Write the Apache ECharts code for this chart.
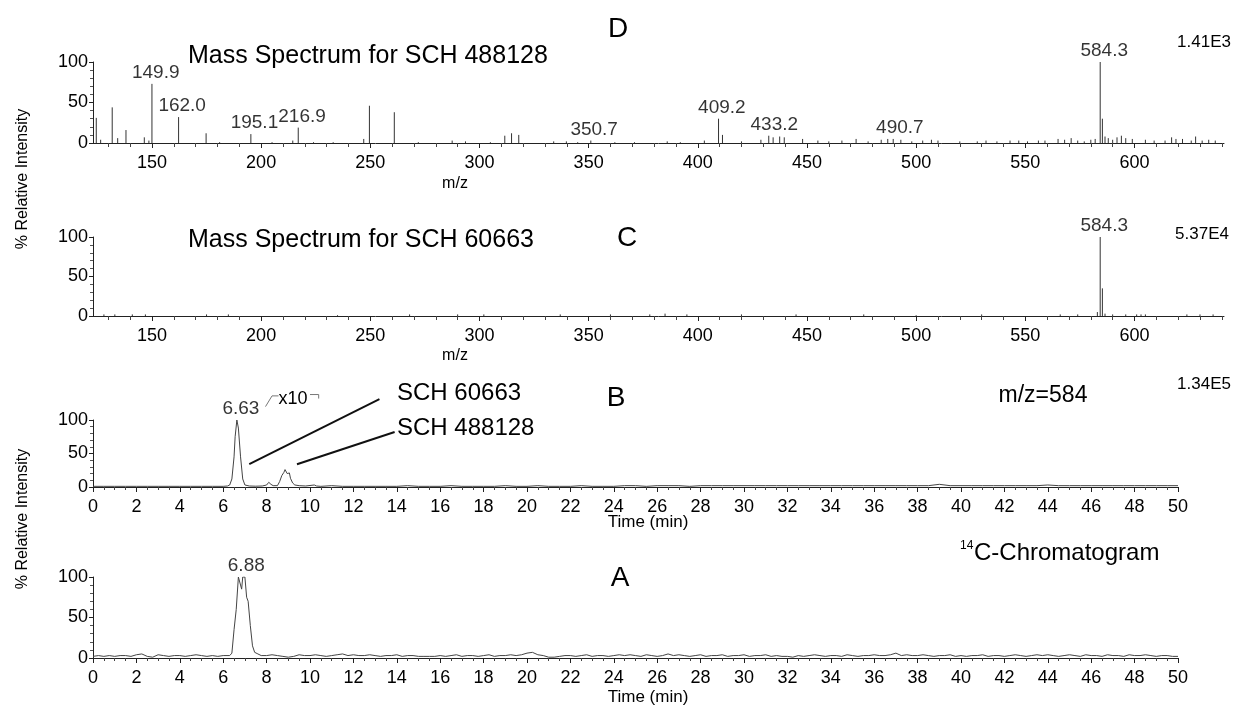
<!DOCTYPE html>
<html><head><meta charset="utf-8">
<script src="https://cdn.jsdelivr.net/npm/echarts@6/dist/echarts.min.js"></script>
<style>html,body{margin:0;padding:0;background:#fff}#c{width:1236px;height:705px}</style>
</head><body><div id="c"></div>
<script>
// ---------- DATA ----------
const mzMajorTicks = [150,200,250,300,350,400,450,500,550,600];
const mzMinorTicks = [130,140,160,170,180,190,210,220,230,240,260,270,280,290,310,320,330,340,360,370,380,390,410,420,430,440,460,470,480,490,510,520,530,540,560,570,580,590,610,620,630,640];
const yTickLabels = [0,50,100];

// Panel D: mass spectrum SCH 488128  [m/z, % intensity]
const specD = [[124.5,31],[126.5,4],[131.8,44],[134.3,6],[138.1,16],[146.5,7],[148.6,3],[150.0,73],[162.2,32],[174.8,12],[181,1],[195.3,11],[205,1],[214.5,3],[217.0,19],[224,1],[233,1],[247,5],[249.6,46],[261.0,38],[272,1],[287.5,3],[293.6,2],[305,1],[311.6,9],[314.7,12],[318.0,10],[334,2],[339.8,2],[345,1],[351.0,3],[362,1],[371,1],[386,2],[392,1],[403,3],[409.5,30],[411.3,10],[420,2],[428.9,4],[432.5,9],[434.5,7],[437.5,8],[439.6,7],[448,5],[455,3],[460,2],[466,3],[472.5,5],[478,2],[484,4],[487,5],[489.5,5],[493,4],[498,2],[503,3],[507,4],[510,3],[520,2],[528,2],[532,3],[537,2],[543,3],[547,3],[551,2],[556,3],[559,3],[565,5],[568,4],[571,6],[574,3],[577,2],[580,4],[582,5],[584.3,100],[585.3,30],[586.5,8],[588,6],[590,4],[592,7],[594,9],[596,6],[599,5],[605,4],[609,3],[614,3],[617,7],[619,5],[622,5],[626,3],[628,8],[631,3],[634,4],[637,3]];
const peakLabelsD = [['149.9',149.9,73],['162.0',162.0,32],['195.1',195.1,11],['216.9',216.9,19],['350.7',350.7,3],['409.2',409.2,30],['433.2',433.2,9],['490.7',490.7,5],['584.3',584.3,100]];

// Panel C: mass spectrum SCH 60663
const specC = [[128,2],[133,2],[141,2],[147,2],[175,2],[185,2],[235,1],[268,2],[290,2],[302,2],[337,2],[360,2],[378,2],[385,3],[395,2],[420,2],[445,2],[476,2],[500,1],[530,2],[566,2],[574,2],[583,5],[584.3,100],[585.3,35],[586.5,3],[590,2],[596,2],[601,2],[603,2],[605,2],[624,2],[630,2],[636,2]];
const peakLabelsC = [['584.3',584.3,100]];

// Panel B: m/z=584 ion chromatogram, baseline sampled every 0.5 min (0..50)
const bBaseline = [1,1,1,1,1,1,1,1,1,1, 1,1,1,1,1,1,1,1,1,1, 1,1,2,1,1,1,1,1,1,2, 1,1,1,2,1,1,1,1,2,1, 1,2,1,1,1,2,1,1,1,2, 2,1,2,2,2,1,2,2,2,2, 2,2,2,2,2,2,2,2,2,2, 2,2,2,2,2,2,2,2,4,2, 2,2,2,2,2,2,2,2,3,2, 2,2,2,2,2,2,2,2,2,2, 2];
const bPeak = [[6.2,1.5],[6.3,3],[6.4,12],[6.5,45],[6.55,75],[6.63,100],[6.7,88],[6.8,45],[6.9,12],[7.0,3],[7.2,1.5],[7.5,1.2],[7.8,1.5],[8.0,3],[8.1,7],[8.2,4],[8.3,2],[8.5,2],[8.6,8],[8.7,17],[8.8,22],[8.85,26],[8.95,20],[9.05,21],[9.1,13],[9.2,6],[9.3,3],[9.5,2],[9.8,1.5],[10.2,3],[10.3,1.5]];
const bPeakLabel = [['6.63',6.63,100]];

// Panel A: 14C chromatogram, baseline sampled every 0.25 min (0..50)
const aBaseline = [2,3,2,3,2,3,3,2,4,5,2,1,4,3,2,3,3,2,3,4, 3,2,3,2,3,2,3,2,2,2,2,2,3,4,3,2,1,2,4,3, 3,4,3,2,3,4,5,3,4,3,3,4,3,2,3,3,4,2,3,3, 2,2,2,2,3,2,3,4,2,3,3,2,3,4,2,3,3,4,3,4, 6,7,4,3,1,1,2,3,3,2,3,4,2,3,3,2,3,4,3,4, 3,2,4,3,2,3,5,3,4,3,2,3,4,2,3,3,4,2,3,3, 4,2,3,3,4,2,3,2,2,1,3,2,3,4,3,2,3,3,2,4, 3,2,3,3,4,3,3,4,6,3,4,3,3,4,3,2,3,3,4,2, 3,2,3,3,4,2,3,3,2,3,4,3,2,3,4,3,4,3,2,3, 4,3,2,4,3,3,2,4,3,3,2,4,3,3,4,3,2,3,3,2, 2];
const aPeak = [[6.3,3],[6.4,6],[6.5,35],[6.6,60],[6.7,100],[6.78,100],[6.85,85],[6.9,100],[7.0,100],[7.08,75],[7.15,70],[7.25,40],[7.35,15],[7.45,7],[7.6,5],[7.75,3]];
const aPeakLabel = [['6.88',6.88,100]];

// ---------- BUILD ----------
function mergeTrace(base, step, peak, from, to) {
  const pts = [];
  base.forEach((v, i) => { const t = i * step; if (t < from || t > to) pts.push([t, v]); });
  peak.forEach(p => pts.push(p));
  pts.sort((a, b) => a[0] - b[0]);
  return pts;
}
const traceB = mergeTrace(bBaseline, 0.5, bPeak, 6.1, 10.4);
const traceA = mergeTrace(aBaseline, 0.25, aPeak, 6.2, 7.8);

const FONT = '"Liberation Sans", Arial, sans-serif';
const INK = '#000';
const AX = '#222';

const grids = [
  {left: 93, right: 12, top: 62, height: 81},
  {left: 93, right: 12, top: 237, height: 79},
  {left: 93, right: 58, top: 420, height: 67},
  {left: 93, right: 58, top: 577, height: 81}
];

function mzAxes(g) {
  return [
    {gridIndex: g, type: 'value', min: 123, max: 641, position: 'bottom',
     axisLine: {show: true, onZero: false, lineStyle: {color: AX, width: 1}},
     axisTick: {show: true, customValues: mzMajorTicks, length: 5, lineStyle: {color: AX}},
     axisLabel: {show: true, customValues: mzMajorTicks, fontFamily: FONT, fontSize: 18, color: INK, margin: 11},
     splitLine: {show: false}},
    {gridIndex: g, type: 'value', min: 123, max: 641, position: 'bottom',
     axisLine: {show: false},
     axisTick: {show: true, customValues: mzMinorTicks, length: 4, lineStyle: {color: '#444'}},
     axisLabel: {show: false}, splitLine: {show: false}}
  ];
}
function timeAxis(g) {
  return {gridIndex: g, type: 'value', min: 0, max: 50, interval: 2, position: 'bottom',
    axisLine: {show: true, onZero: false, lineStyle: {color: AX, width: 1}},
    axisTick: {show: true, length: 5, lineStyle: {color: AX}},
    minorTick: {show: true, splitNumber: 4, length: 3, lineStyle: {color: '#444'}},
    axisLabel: {fontFamily: FONT, fontSize: 18, color: INK, margin: 11},
    splitLine: {show: false}, minorSplitLine: {show: false}};
}
function yAxis(g) {
  return {gridIndex: g, type: 'value', min: 0, max: 100, interval: 50,
    axisLine: {show: true, lineStyle: {color: AX, width: 1}},
    axisTick: {show: true, length: 4, lineStyle: {color: AX}},
    minorTick: {show: true, splitNumber: 5, length: 3, lineStyle: {color: '#555'}},
    axisLabel: {fontFamily: FONT, fontSize: 18, color: INK, margin: 5,
      customValues: yTickLabels},
    splitLine: {show: false}, minorSplitLine: {show: false}};
}

function stickSeries(xi, yi, data) {
  return {type: 'custom', xAxisIndex: xi, yAxisIndex: yi, data: data,
    encode: {x: 0, y: 1}, silent: true,
    renderItem: function (params, api) {
      const x = api.value(0), y = api.value(1);
      const p0 = api.coord([x, 0]), p1 = api.coord([x, y]);
      return {type: 'line', shape: {x1: p0[0], y1: p0[1], x2: p1[0], y2: p1[1]},
        style: {stroke: '#333', lineWidth: 1}};
    }};
}
function labelSeries(xi, yi, labels) {
  return {type: 'scatter', xAxisIndex: xi, yAxisIndex: yi, symbolSize: 1, silent: true,
    itemStyle: {color: 'rgba(0,0,0,0)'},
    data: labels.map(l => ({name: l[0], value: [l[1], l[2]]})),
    label: {show: true, position: 'top', distance: 1, offset: [4, 0], formatter: '{b}',
      fontFamily: FONT, fontSize: 19, color: INK}};
}
function traceSeries(xi, yi, data) {
  return {type: 'line', xAxisIndex: xi, yAxisIndex: yi, data: data, showSymbol: false,
    symbol: 'none', silent: true, lineStyle: {color: '#444', width: 1}};
}

const chart = echarts.init(document.getElementById('c'), null, {renderer: 'canvas'});

function txt(t, x, y, size, align, extra) {
  return Object.assign({type: 'text', x: x, y: y, silent: true,
    style: {text: t, fontFamily: FONT, fontSize: size, fill: INK,
      align: align || 'center', verticalAlign: 'middle'}}, extra || {});
}

const option = {
  animation: false,
  backgroundColor: '#fff',
  grid: grids,
  xAxis: [].concat(mzAxes(0), mzAxes(1), [timeAxis(2), timeAxis(3)]),
  yAxis: [yAxis(0), yAxis(1), yAxis(2), yAxis(3)],
  series: [
    stickSeries(0, 0, specD),
    labelSeries(0, 0, peakLabelsD),
    stickSeries(2, 1, specC),
    labelSeries(2, 1, peakLabelsC),
    traceSeries(4, 2, traceB),
    labelSeries(4, 2, bPeakLabel),
    traceSeries(5, 3, traceA),
    labelSeries(5, 3, aPeakLabel)
  ]
};
chart.setOption(option);

// annotations (positions given in the B panel's data space)
function pB(t, y) { return chart.convertToPixel({gridIndex: 2}, [t, y]); }
const l1a = pB(7.2, 34), l1b = pB(13.2, 131);
const l2a = pB(9.4, 34), l2b = pB(13.9, 82);
const br1 = pB(7.95, 120), br2 = pB(8.25, 136), br3 = pB(8.55, 136);
const br4 = pB(10.0, 138), br5 = pB(10.4, 138), br6 = pB(10.4, 132);

chart.setOption({
  graphic: [
    txt('D', 618, 29, 28),
    txt('Mass Spectrum for SCH 488128', 188, 56, 25, 'left'),
    txt('1.41E3', 1204, 42, 17),
    txt('m/z', 455, 184, 16),
    txt('C', 627, 238, 28),
    txt('Mass Spectrum for SCH 60663', 188, 240, 25, 'left'),
    txt('5.37E4', 1202, 234, 17),
    txt('m/z', 455, 356, 16),
    txt('B', 616, 398, 28),
    txt('m/z=584', 1043, 396, 23),
    txt('1.34E5', 1204, 384, 17),
    txt('SCH 60663', 397, 393, 24, 'left'),
    txt('SCH 488128', 397, 428, 24, 'left'),
    txt('x10', 293, 399, 18),
    txt('Time (min)', 648, 522, 17),
    txt('A', 620, 578, 28),
    txt('14', 960, 546, 12, 'left'),
    txt('C-Chromatogram', 974, 553, 24, 'left'),
    txt('Time (min)', 648, 697, 17),
    txt('% Relative Intensity', 23, 179, 16, 'center', {rotation: Math.PI / 2}),
    txt('% Relative Intensity', 23, 519, 16, 'center', {rotation: Math.PI / 2}),
    {type: 'line', silent: true, shape: {x1: l1a[0], y1: l1a[1], x2: l1b[0], y2: l1b[1]}, style: {stroke: '#111', lineWidth: 2}},
    {type: 'line', silent: true, shape: {x1: l2a[0], y1: l2a[1], x2: l2b[0], y2: l2b[1]}, style: {stroke: '#111', lineWidth: 2}},
    {type: 'polyline', silent: true, shape: {points: [br1, br2, br3]}, style: {stroke: '#777', lineWidth: 1, fill: null}},
    {type: 'polyline', silent: true, shape: {points: [br4, br5, br6]}, style: {stroke: '#777', lineWidth: 1, fill: null}}
  ]
});
</script>
</body></html>
